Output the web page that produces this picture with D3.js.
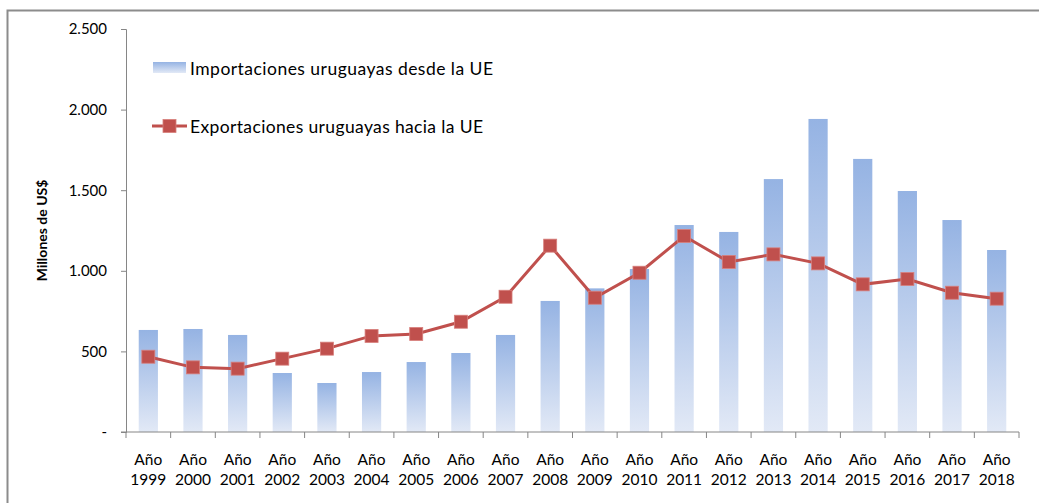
<!DOCTYPE html>
<html>
<head>
    <meta charset="utf-8">
    <title>Comercio Uruguay - UE</title>
    <script src="https://d3js.org/d3.v7.min.js"></script>
    <style>
        body {
            margin: 0;
            background-color: white;
            font-family: Lato, "Open Sans", sans-serif;
        }
        .tick text {
            font-family: Lato, sans-serif;
            fill: #000;
        }
    </style>
</head>
<body>
<div id="chart"></div>
<script>
    // data (millones de US$)
    const years = ["1999", "2000", "2001", "2002", "2003", "2004", "2005", "2006", "2007", "2008",
        "2009", "2010", "2011", "2012", "2013", "2014", "2015", "2016", "2017", "2018"];
    const importaciones = [633, 639, 602, 366, 304, 372, 434, 490, 602, 813,
        891, 1011, 1284, 1241, 1569, 1942, 1694, 1495, 1315, 1129];
    const exportaciones = [467, 401, 393, 455, 517, 596, 608, 684, 839, 1156,
        833, 988, 1216, 1055, 1102, 1046, 916, 949, 864, 827];
    const yTicks = [0, 500, 1000, 1500, 2000, 2500];
    const seriesNames = ["Importaciones uruguayas desde la UE", "Exportaciones uruguayas hacia la UE"];

    const width = 1039;
    const height = 503;
    const margin = { top: 29, right: 20, bottom: 71, left: 126 };
    const plotRight = 1019;

    const svg = d3.select("#chart")
        .append("svg")
        .attr("width", width)
        .attr("height", height);

    // gradient for the bars
    const defs = svg.append("defs");
    const grad = defs.append("linearGradient")
        .attr("id", "barGrad")
        .attr("x1", 0).attr("y1", 0)
        .attr("x2", 0).attr("y2", 1);
    grad.append("stop").attr("offset", "0%").attr("stop-color", "#95b3e3");
    grad.append("stop").attr("offset", "100%").attr("stop-color", "#e2e9f6");

    // outer frame (only top and left edges are inside the picture)
    svg.append("rect")
        .attr("x", 7.5)
        .attr("y", 10.5)
        .attr("width", 1200)
        .attr("height", 600)
        .attr("fill", "none")
        .attr("stroke", "#8c8c8c")
        .attr("stroke-width", 2);

    const x = d3.scaleBand()
        .domain(years)
        .range([margin.left, plotRight])
        .paddingInner(0.57)
        .paddingOuter(0.285);

    const y = d3.scaleLinear()
        .domain([0, 2500])
        .range([height - margin.bottom, margin.top]);

    // bars
    svg.selectAll(".bar")
        .data(importaciones)
        .enter()
        .append("rect")
        .attr("class", "bar")
        .attr("x", (d, i) => x(years[i]))
        .attr("y", d => y(d))
        .attr("width", x.bandwidth())
        .attr("height", d => y(0) - y(d))
        .attr("fill", "url(#barGrad)");

    // y axis
    const yAxis = svg.append("g")
        .attr("transform", `translate(${margin.left},0)`)
        .call(d3.axisLeft(y)
            .tickValues(yTicks)
            .tickSize(5)
            .tickPadding(14)
            .tickFormat(d => d === 0 ? "-   " : d3.format(",")(d).replace(/,/g, ".")));
    yAxis.selectAll("text").style("font-size", "15px");
    yAxis.select(".domain").attr("stroke", "#868686");
    yAxis.selectAll(".tick line").attr("stroke", "#868686");

    // x axis with ticks at category boundaries
    const xAxisG = svg.append("g")
        .attr("transform", `translate(0,${y(0)})`);
    xAxisG.append("line")
        .attr("x1", margin.left - 5)
        .attr("x2", plotRight)
        .attr("stroke", "#868686");
    const boundaries = d3.range(years.length + 1).map(i => margin.left + i * (plotRight - margin.left) / years.length);
    xAxisG.selectAll(".xtick")
        .data(boundaries)
        .enter()
        .append("line")
        .attr("x1", d => d).attr("x2", d => d)
        .attr("y1", 0).attr("y2", 6)
        .attr("stroke", "#868686");
    const xLabels = xAxisG.selectAll(".xlabel")
        .data(years)
        .enter()
        .append("text")
        .attr("text-anchor", "middle")
        .style("font-size", "15.5px")
        .style("fill", "#000");
    xLabels.append("tspan").attr("x", d => x(d) + x.bandwidth() / 2).attr("y", 33).text("Año");
    xLabels.append("tspan").attr("x", d => x(d) + x.bandwidth() / 2).attr("y", 53).text(d => d);

    // y axis title
    svg.append("text")
        .attr("transform", `translate(47,${(y(0) + y(2500)) / 2}) rotate(-90)`)
        .attr("text-anchor", "middle")
        .style("font-size", "14px")
        .style("font-weight", "bold")
        .text("Millones de US$");

    // export line
    const line = d3.line()
        .x((d, i) => x(years[i]) + x.bandwidth() / 2)
        .y(d => y(d));
    svg.append("path")
        .datum(exportaciones)
        .attr("d", line)
        .attr("fill", "none")
        .attr("stroke", "#c0504d")
        .attr("stroke-width", 3);
    svg.selectAll(".marker")
        .data(exportaciones)
        .enter()
        .append("rect")
        .attr("class", "marker")
        .attr("x", (d, i) => x(years[i]) + x.bandwidth() / 2 - 6.5)
        .attr("y", d => y(d) - 6.5)
        .attr("width", 13)
        .attr("height", 13)
        .attr("fill", "#c0504d")
        .attr("stroke", "#d77f7c")
        .attr("stroke-width", 0.8);

    // legend
    const legend = svg.append("g");
    legend.append("rect")
        .attr("x", 153).attr("y", 62)
        .attr("width", 33).attr("height", 11)
        .attr("fill", "url(#barGrad)");
    legend.append("text")
        .attr("x", 190).attr("y", 75)
        .attr("textLength", 303)
        .style("font-size", "17.5px")
        .text(seriesNames[0]);
    legend.append("line")
        .attr("x1", 152).attr("x2", 187)
        .attr("y1", 126).attr("y2", 126)
        .attr("stroke", "#c0504d")
        .attr("stroke-width", 3);
    legend.append("rect")
        .attr("x", 163).attr("y", 119.5)
        .attr("width", 13).attr("height", 13)
        .attr("fill", "#c0504d")
        .attr("stroke", "#d77f7c")
        .attr("stroke-width", 0.8);
    legend.append("text")
        .attr("x", 190).attr("y", 133)
        .attr("textLength", 293)
        .style("font-size", "17.5px")
        .text(seriesNames[1]);
</script>
</body>
</html>
